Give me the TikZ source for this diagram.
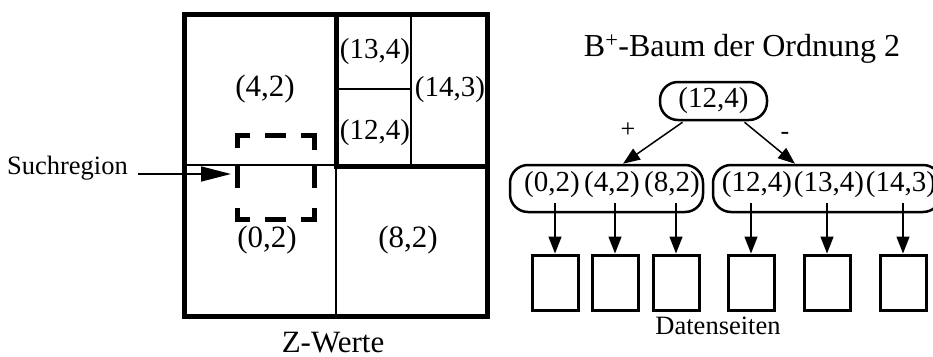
\documentclass[tikz,border=0pt]{standalone}
\usepackage{fontspec}
\setmainfont{Liberation Serif}
\usetikzlibrary{arrows.meta,calc}
\begin{document}
\begin{tikzpicture}[x=1pt,y=-1pt,
  lbl/.style={font=\fontsize{29}{33}\selectfont, inner sep=0pt},
  glbl/.style={font=\fontsize{31}{35}\selectfont, inner sep=0pt},
  small/.style={font=\fontsize{26.5}{30}\selectfont, inner sep=0pt},
  thickln/.style={line width=5pt},
  thinln/.style={line width=1.5pt},
  dsh/.style={line width=5pt},
  conn/.style={line width=1.5pt, -{Triangle[length=17pt,width=13pt]}},
  bignode/.style={draw, line width=2.5pt, rounded corners=18pt, minimum height=47pt},
  page/.style={draw, line width=3pt, minimum width=46pt, minimum height=55pt, inner sep=0pt}
]
\useasboundingbox (0,0) rectangle (933,356);
% grid of Z-Werte
\draw[thickln] (184,14) rectangle (487,316);
\draw[thinln] (184,165) -- (336,165);
\draw[thinln] (336,166) -- (336,316);
\draw[thinln] (411,14) -- (411,166);
\draw[thinln] (336,89) -- (411,89);
\draw[thickln] (336.5,14) -- (336.5,166) -- (487,166);
% labels in grid
\node[glbl] (q42) at (265,89) {(4,2)};
\node[glbl] (q02) at (267,240) {(0,2)};
\node[glbl] (q82) at (408,240) {(8,2)};
\node[lbl] (q134) at (375,52) {(13,4)};
\node[lbl] (q124) at (375,133) {(12,4)};
\node[lbl] (q143) at (450,90) {(14,3)};
\node[glbl] (zw) at (333,343) {Z-Werte};
% search region (dashed square)
\draw[dsh] (237.5,148) -- (237.5,135.5) -- (250,135.5);
\draw[dsh] (265,135.5) -- (286,135.5);
\draw[dsh] (301,135.5) -- (314,135.5) -- (314,150);
\draw[dsh] (237.5,165) -- (237.5,188);
\draw[dsh] (314,165) -- (314,188);
\draw[dsh] (237.5,208) -- (237.5,219.5) -- (250,219.5);
\draw[dsh] (265,219.5) -- (286,219.5);
\draw[dsh] (301,219.5) -- (314,219.5) -- (314,208);
\node[small] (such) at (67.5,168) {Suchregion};
\coordinate (sq) at (231,174);
\draw[line width=1.5pt, -{Triangle[length=30pt,width=15pt]}] (such.east |- sq) ++(10,0) -- (sq);
% B+ tree
\node[font=\fontsize{32}{36}\selectfont, inner sep=0pt] (title) at (742,49) {B\textsuperscript{+}-Baum der Ordnung 2};
\node[draw, line width=2.5pt, rounded corners=18pt, minimum width=107pt, minimum height=38pt, inner sep=0pt, font=\fontsize{29}{33}\selectfont] (root) at (713.5,101) {(12,4)};
\node[bignode, minimum width=193pt] (L) at (606.5,188.5) {};
\node[bignode, minimum width=228pt] (R) at (827,188.5) {};
\node[lbl, anchor=base] (k1) at (552,191) {(0,2)};
\node[lbl, anchor=base] (k2) at (612,191) {(4,2)};
\node[lbl, anchor=base] (k3) at (672,191) {(8,2)};
\node[lbl, anchor=base] (k4) at (757,191) {(12,4)};
\node[lbl, anchor=base] (k5) at (829,191) {(13,4)};
\node[lbl, anchor=base] (k6) at (901,191) {(14,3)};
\draw[conn] ($(root.south)+(-31,1)$) -- ($(L.north)+(16.5,0)$);
\draw[conn] ($(root.south)+(31,1)$) -- ($(R.north)+(-32,0)$);
\node[font=\fontsize{26}{30}\selectfont, inner sep=0pt] (plus) at (628,130) {+};
\node[font=\fontsize{26}{30}\selectfont, inner sep=0pt] (minus) at (785,136) {-};
\foreach \i/\x in {1/555,2/615,3/676,4/751,5/827,6/903}{
  \node[page] (b\i) at (\x,282.5) {};
  \draw[conn] (b\i.north |- 0,203) -- (b\i.north);
}
\node[small] (ds) at (718,326) {Datenseiten};
\end{tikzpicture}
\end{document}
